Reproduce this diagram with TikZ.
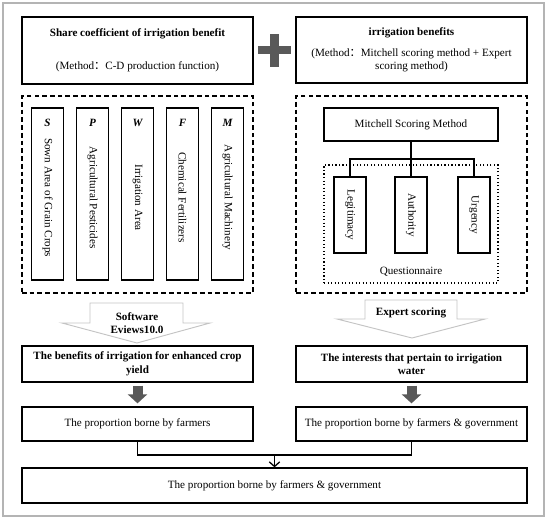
\documentclass[tikz,border=0pt]{standalone}
\usepackage{fontspec}
\setmainfont{Liberation Serif}
\newfontfamily\cjk{Noto Sans CJK SC}
\usetikzlibrary{arrows.meta, positioning}
\definecolor{plusgray}{HTML}{595959}
\definecolor{framegray}{HTML}{B4B4B4}
\definecolor{hollowgray}{HTML}{C4C4C4}
\newcommand{\figfont}{\fontsize{9.5}{11.5}\selectfont}
\newcommand{\fwcolon}{{\cjk ：}}
\newcommand{\vtext}[1]{\rotatebox{-90}{\hspace*{0.22cm}#1}}

\begin{document}
\begin{tikzpicture}[x=0.03cm, y=-0.03cm, font=\figfont,
            box/.style={draw, rectangle, line width=1.1pt, align=center, inner sep=0pt},
            boldbox/.style={box, font=\figfont\bfseries},
            dashframe/.style={draw, dash pattern=on 4pt off 2.6pt, line width=1.1pt, inner sep=0pt, minimum width=6.93cm, minimum height=5.91cm},
            vbox/.style={draw, rectangle, line width=1.1pt, inner sep=0pt, minimum width=0.96cm},
            letter/.style={font=\figfont\bfseries\itshape, inner sep=0pt},
            hollow/.style={draw=hollowgray, fill=white, line width=0.8pt},
            fat/.style={draw=plusgray, line width=0.3cm, -{Triangle[width=0.57cm, length=0.27cm]}, shorten <=0.09cm, shorten >=0.09cm},
            link/.style={line width=1.1pt}]
            \useasboundingbox (0,0) rectangle (550,520);
            \draw[framegray, line width=1.3pt] (3,3) rectangle (544,516);

            % top row
            \node[box, minimum width=6.93cm, minimum height=2.01cm] (share) at (137.5,50.5) {{\bfseries Share coefficient of irrigation benefit}\\[17pt](Method\fwcolon C-D production function)};
            \node[box, minimum width=6.93cm, minimum height=1.98cm] (benefits) at (411.5,50) {{\bfseries irrigation benefits}\\[6pt](Method\fwcolon Mitchell scoring method + Expert\\scoring method)};
            \draw[plusgray, line width=0.26cm] (258,50) -- (291,50);
            \draw[plusgray, line width=0.26cm] (274.5,34) -- (274.5,67);

            % input factors
            \node[dashframe] (factors) at (137.5,194.5) {};
            \node[vbox, minimum height=5.16cm] (sown) at (47.5,194) {\vtext{Sown Area of Grain Crops}};
            \node[vbox, minimum height=5.16cm] (pest) at (92.5,194) {\vtext{Agricultural Pesticides}};
            \node[vbox, minimum height=5.16cm] (irri) at (137.5,194) {\vtext{Irrigation Area}};
            \node[vbox, minimum height=5.16cm] (fert) at (182.5,194) {\vtext{Chemical Fertilizers}};
            \node[vbox, minimum height=5.16cm] (mach) at (227.5,194) {\vtext{Agricultural Machinery}};
            \node[letter, below=0.36cm of sown.north] (sownL) {S};
            \node[letter, below=0.36cm of pest.north] (pestL) {P};
            \node[letter, below=0.36cm of irri.north] (irriL) {W};
            \node[letter, below=0.36cm of fert.north] (fertL) {F};
            \node[letter, below=0.36cm of mach.north] (machL) {M};

            % scoring
            \node[dashframe] (scoring) at (411.5,194.5) {};
            \node[box, minimum width=5.22cm, minimum height=0.99cm] (mitchell) at (411,124.5) {Mitchell Scoring Method};
            \node[draw, dotted, line width=1pt, minimum width=5.22cm, minimum height=3.54cm] (quest) at (411,224) {};
            \node (questT) at (411,272) {Questionnaire};
            \node[vbox, minimum height=2.28cm] (legit) at (350,215) {\rotatebox{-90}{Legitimacy}};
            \node[vbox, minimum height=2.28cm] (auth) at (411,215) {\rotatebox{-90}{Authority}};
            \node[vbox, minimum height=2.28cm] (urg) at (474,215) {\rotatebox{-90}{Urgency}};
            \coordinate (split) at (411,159);
            \draw[link] (mitchell.south) -- (split);
            \draw[link] (split) -| (legit.north);
            \draw[link] (split) -| (urg.north);
            \draw[link] (split) -- (auth.north);

            % hollow arrows
            \draw[hollow] (90,303) -- (183,303) -- (183,323) -- (210,323) -- (137,343) -- (62,323) -- (90,323) -- cycle;
            \draw[hollow] (365,300) -- (457,300) -- (457,319) -- (485,319) -- (412,338) -- (337,319) -- (365,319) -- cycle;
            \node[align=center, font=\figfont\bfseries] (eviews) at (137,323) {Software\\Eviews10.0};
            \node[font=\figfont\bfseries] (expert) at (411,313) {Expert scoring};

            % results
            \node[boldbox, minimum width=6.93cm, minimum height=1.08cm] (yield) at (137.5,364) {The benefits of irrigation for enhanced crop\\yield};
            \node[boldbox, minimum width=6.93cm, minimum height=1.08cm] (water) at (411.5,364) {The interests that pertain to irrigation\\water};
            \node[box, minimum width=6.93cm, minimum height=1.02cm] (farmers) at (137.5,424) {The proportion borne by farmers};
            \node[box, minimum width=6.93cm, minimum height=1.02cm] (shared) at (411.5,424) {The proportion borne by farmers \& government};
            \node[box, minimum width=15.15cm, minimum height=1.05cm] (total) at (274.5,485.5) {The proportion borne by farmers \& government};

            \draw[fat] (yield) -- (farmers);
            \draw[fat] (water) -- (shared);
            \coordinate (join) at (274.5,455);
            \draw[link] (farmers.south) |- (join) -| (shared.south);
            \draw[link, -{Straight Barb[length=4pt, width=9pt]}] (join) -- (total.north);
        \end{tikzpicture}
\end{document}
